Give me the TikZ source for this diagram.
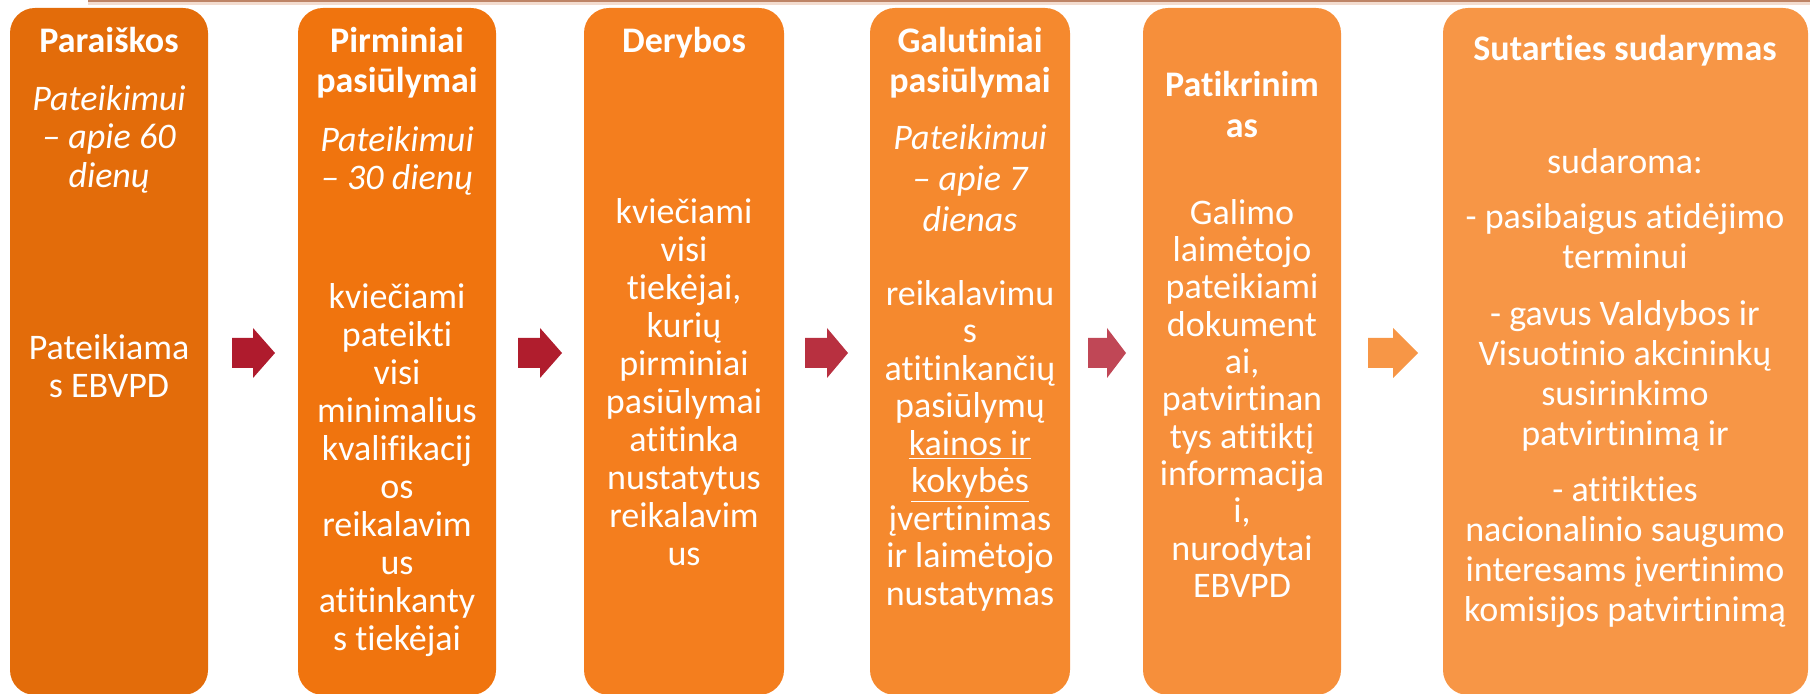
\documentclass[tikz,border=0pt]{standalone}
\usepackage{fontspec}
\setmainfont{Carlito}[Ligatures={NoCommon,NoContextual},Contextuals=NoAlternate]
\definecolor{c1}{HTML}{E36C0A}
\definecolor{c2}{HTML}{F0740E}
\definecolor{c3}{HTML}{F47E1E}
\definecolor{c4}{HTML}{F5892E}
\definecolor{c5}{HTML}{F68F3B}
\definecolor{c6}{HTML}{F79646}
\definecolor{a1}{HTML}{AF1B2D}
\definecolor{a2}{HTML}{B01D2D}
\definecolor{a3}{HTML}{B83040}
\definecolor{a4}{HTML}{C04756}
\definecolor{a5}{HTML}{F79646}
\definecolor{topline}{HTML}{BE8466}
\definecolor{topshadow}{HTML}{F3DCCF}
\newcommand\mystrut{\rule{0pt}{0.9em}}
\newcommand\blkarrow[4]{\fill[#4] (#1,338) -- (#2,338) -- (#2,328) -- (#3,353) -- (#2,378) -- (#2,368) -- (#1,368) -- cycle;}
\begin{document}
\begin{tikzpicture}[x=0.5pt,y=-0.5pt,
  box/.style={rounded corners=12.5pt, inner sep=0pt, outer sep=0pt, anchor=north west, minimum height=343.5pt},
  txt/.style={text=white, inner sep=0pt, align=center, anchor=north, yshift=16.2pt, font=\fontsize{18}{19}\selectfont},
  ttl/.style={txt, font=\bfseries\fontsize{18}{20}\selectfont},
  itx/.style={txt, font=\itshape\fontsize{18}{19.25}\selectfont}]
\useasboundingbox (0,0) rectangle (1810,694);
% top rule
\draw[topshadow, line width=1.5pt] (88,4) -- (1810,4);
\draw[topline, line width=1pt] (88,1.2) -- (1810,1.2);
% boxes
\node[box, fill=c1, minimum width=99pt] (b1) at (10,8) {};
\node[box, fill=c2, minimum width=99pt] (b2) at (298,8) {};
\node[box, fill=c3, minimum width=100pt] (b3) at (584,8) {};
\node[box, fill=c4, minimum width=100pt] (b4) at (870,8) {};
\node[box, fill=c5, minimum width=99pt] (b5) at (1143,8) {};
\node[box, fill=c6, minimum width=182.5pt] (b6) at (1443,8) {};
% arrows
\blkarrow{232}{253}{275}{a1}
\blkarrow{518}{540}{562}{a2}
\blkarrow{805}{827}{848}{a3}
\blkarrow{1088}{1107}{1126}{a4}
\blkarrow{1368}{1393}{1418}{a5}
% box 1
\node[ttl] (t1) at (109,52) {\mystrut Paraiškos};
\node[itx] (i1) at (109,110) {\mystrut Pateikimui\\– apie 60\\dienų};
\node[txt] (d1) at (109,359) {\mystrut Pateikiama\\s EBVPD};
% box 2
\node[ttl] (t2) at (397,52) {\mystrut Pirminiai\\pasiūlymai};
\node[itx] (i2) at (397,151) {\mystrut Pateikimui\\– 30 dienų};
\node[txt] (d2) at (397,308) {\mystrut kviečiami\\pateikti\\visi\\minimalius\\kvalifikacij\\os\\reikalavim\\us\\atitinkanty\\s tiekėjai};
% box 3
\node[ttl] (t3) at (684,52) {\mystrut Derybos};
\node[txt] (d3) at (684,223) {\mystrut kviečiami\\visi\\tiekėjai,\\kurių\\pirminiai\\pasiūlymai\\atitinka\\nustatytus\\reikalavim\\us};
% box 4
\node[ttl] (t4) at (970,52) {\mystrut Galutiniai\\pasiūlymai};
\node[itx, font=\itshape\fontsize{18}{20.5}\selectfont] (i4) at (970,149) {\mystrut Pateikimui\\– apie 7\\dienas};
\node[txt, font=\fontsize{18}{18.75}\selectfont] (d4) at (970,305) {\mystrut reikalavimu\\s\\atitinkančių\\pasiūlymų\\\underline{kainos ir}\\\underline{kokybės}\\įvertinimas\\ir laimėtojo\\nustatymas};
% box 5
\node[ttl, font=\bfseries\fontsize{18}{20.5}\selectfont] (t5) at (1242,96) {\mystrut Patikrinim\\as};
\node[txt, font=\fontsize{18}{18.65}\selectfont] (d5) at (1242,224) {\mystrut Galimo\\laimėtojo\\pateikiami\\dokument\\ai,\\patvirtinan\\tys atitiktį\\informacija\\i,\\nurodytai\\EBVPD};
% box 6
\node[ttl] (t6) at (1625,60) {\mystrut Sutarties sudarymas};
\node[txt, font=\fontsize{18}{20}\selectfont] (p61) at (1625,173) {\mystrut sudaroma:};
\node[txt, font=\fontsize{18}{20}\selectfont] (p62) at (1625,228) {\mystrut - pasibaigus atidėjimo\\terminui};
\node[txt, font=\fontsize{18}{20}\selectfont] (p63) at (1625,325) {\mystrut - gavus Valdybos ir\\Visuotinio akcininkų\\susirinkimo\\patvirtinimą ir};
\node[txt, font=\fontsize{18}{20}\selectfont] (p64) at (1625,501) {\mystrut - atitikties\\nacionalinio saugumo\\interesams įvertinimo\\komisijos patvirtinimą};
\end{tikzpicture}
\end{document}
